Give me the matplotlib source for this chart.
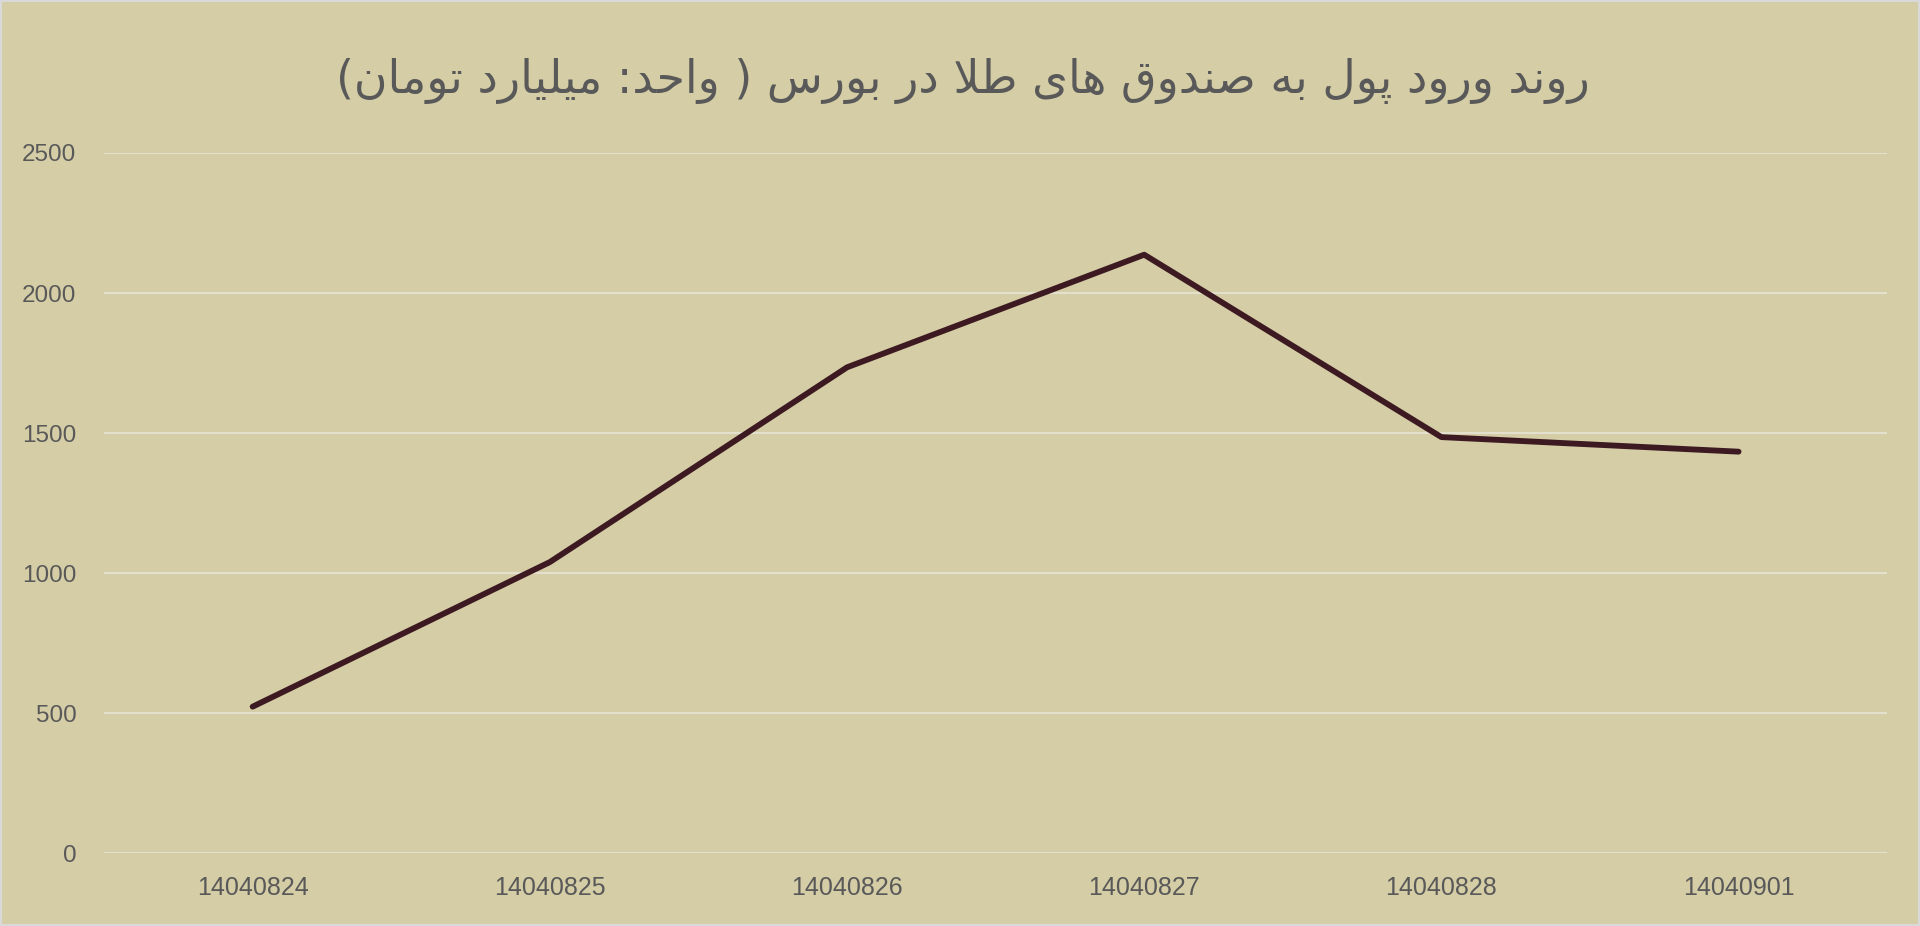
"""
Gold fund inflows chart (line chart, Persian title)
"""

import matplotlib
matplotlib.use("Agg")
import matplotlib.pyplot as plt
from matplotlib.patches import Rectangle

# =============================================================================
# Data
# =============================================================================

dates = ["14040824", "14040825", "14040826", "14040827", "14040828", "14040901"]
inflow = [524, 1040, 1735, 2137, 1486, 1434]
y_ticks = [0, 500, 1000, 1500, 2000, 2500]
title_text = "روند ورود پول به صندوق های طلا در بورس ( واحد: میلیارد تومان)"

# =============================================================================
# Small Arabic/Persian shaper (matplotlib has no complex text layout)
# forms: (isolated, final, initial, medial) -- None = letter does not join left
# =============================================================================

FORMS = {
    "ا": ("\uFE8D", "\uFE8E", None, None),
    "ب": ("\uFE8F", "\uFE90", "\uFE91", "\uFE92"),
    "پ": ("\uFB56", "\uFB57", "\uFB58", "\uFB59"),
    "ت": ("\uFE95", "\uFE96", "\uFE97", "\uFE98"),
    "ح": ("\uFEA1", "\uFEA2", "\uFEA3", "\uFEA4"),
    "د": ("\uFEA9", "\uFEAA", None, None),
    "ر": ("\uFEAD", "\uFEAE", None, None),
    "س": ("\uFEB1", "\uFEB2", "\uFEB3", "\uFEB4"),
    "ص": ("\uFEB9", "\uFEBA", "\uFEBB", "\uFEBC"),
    "ط": ("\uFEC1", "\uFEC2", "\uFEC3", "\uFEC4"),
    "ق": ("\uFED5", "\uFED6", "\uFED7", "\uFED8"),
    "ل": ("\uFEDD", "\uFEDE", "\uFEDF", "\uFEE0"),
    "م": ("\uFEE1", "\uFEE2", "\uFEE3", "\uFEE4"),
    "ن": ("\uFEE5", "\uFEE6", "\uFEE7", "\uFEE8"),
    "ه": ("\uFEE9", "\uFEEA", "\uFEEB", "\uFEEC"),
    "و": ("\uFEED", "\uFEEE", None, None),
    "ی": ("\uFBFC", "\uFBFD", "\uFBFE", "\uFBFF"),
}
LAM_ALEF = ("\uFEFB", "\uFEFC")
MIRROR = {"(": ")", ")": "("}


def joins_left(ch):
    return ch in FORMS and FORMS[ch][2] is not None


def shape_rtl(text):
    out = []
    i = 0
    n = len(text)
    while i < n:
        ch = text[i]
        prev = text[i - 1] if i > 0 else ""
        if ch not in FORMS:
            out.append(MIRROR.get(ch, ch))
            i += 1
            continue
        linked_prev = joins_left(prev)
        # lam + alef ligature
        if ch == "ل" and i + 1 < n and text[i + 1] == "ا":
            out.append(LAM_ALEF[1] if linked_prev else LAM_ALEF[0])
            i += 2
            continue
        nxt = text[i + 1] if i + 1 < n else ""
        linked_next = joins_left(ch) and nxt in FORMS
        iso, fin, ini, med = FORMS[ch]
        if linked_prev and linked_next:
            out.append(med)
        elif linked_prev:
            out.append(fin)
        elif linked_next:
            out.append(ini)
        else:
            out.append(iso)
        i += 1
    return "".join(reversed(out))


# =============================================================================
# Plot
# =============================================================================

bg = "#D5CDA6"
text_color = "#595959"

fig = plt.figure(figsize=(19.2, 9.26), dpi=100)
fig.patch.set_facecolor(bg)
fig.patches.append(Rectangle((0, 0), 1, 1, transform=fig.transFigure,
                             fill=False, edgecolor="#D9D9D9", linewidth=3))

ax = fig.add_axes([0.0542, 0.0783, 0.9287, 0.7565])
ax.set_facecolor(bg)

x = list(range(len(dates)))
ax.plot(x, inflow, color="#3D1A22", linewidth=4.2,
        solid_capstyle="round", solid_joinstyle="round", zorder=3)

ax.set_xlim(-0.5, len(dates) - 0.5)
ax.set_ylim(0, 2500)
ax.set_yticks(y_ticks)
ax.set_yticklabels([str(v) for v in y_ticks])
ax.set_xticks(x)
ax.set_xticklabels(dates)

ax.grid(axis="y", color="#E4E0CE", linewidth=1.5, zorder=0)
ax.set_axisbelow(True)
for s in ax.spines.values():
    s.set_visible(False)

ax.tick_params(axis="both", length=0, labelcolor=text_color)
ax.tick_params(axis="y", pad=20, labelsize=17.5)
ax.tick_params(axis="x", pad=16, labelsize=18)
for lab in ax.get_xticklabels() + ax.get_yticklabels():
    lab.set_fontfamily("Liberation Sans")

fig.text(0.5015, 0.913, shape_rtl(title_text), ha="center", va="center",
         fontsize=33, color=text_color, family=["DejaVu Sans"])

plt.savefig("out.png", dpi=100, facecolor=bg)
plt.close()
